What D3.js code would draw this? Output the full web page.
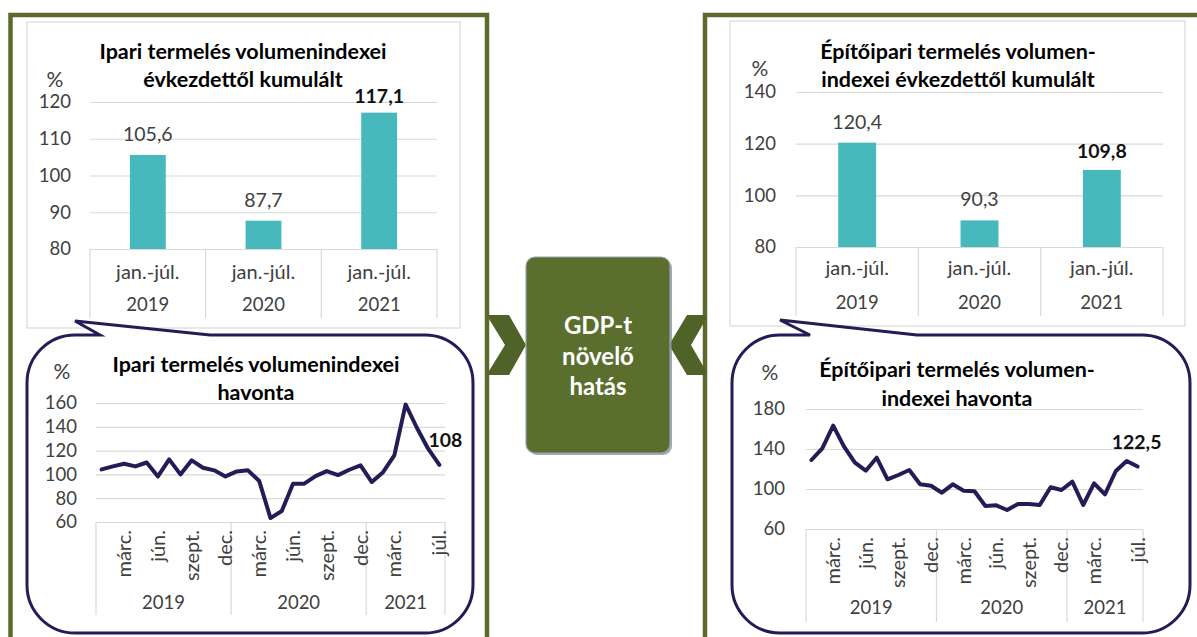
<!DOCTYPE html>
<html><head><meta charset="utf-8">
<script src="https://cdn.jsdelivr.net/npm/d3@7"></script>
<style>
body{margin:0;background:#fff}
svg{display:block}
text{font-family:Lato,"Open Sans",sans-serif}
</style>
</head><body>
<svg id="c" width="1197" height="637"></svg>
<script>
// ---------- data ----------
const barYears = ["2019", "2020", "2021"];
const barPeriod = "jan.-júl.";
const industryCumulative = [105.6, 87.7, 117.1];
const constructionCumulative = [120.4, 90.3, 109.8];
const industryBarTicks = [80, 90, 100, 110, 120];
const constructionBarTicks = [80, 100, 120, 140];

const monthYears = ["2019", "2020", "2021"];
const monthsPerYear = [12, 12, 7];
const monthLabels = ["", "", "márc.", "", "", "jún.", "", "", "szept.", "", "", "dec.",
                     "", "", "márc.", "", "", "jún.", "", "", "szept.", "", "", "dec.",
                     "", "", "márc.", "", "", "", "júl."];
const industryMonthly = [104.2, 106.7, 109, 106.7, 110, 98.3, 112.6, 100, 111.8, 105.6, 103.4, 98.3,
                         102.5, 103.4, 94.4, 63.3, 69.2, 92.2, 92.2, 98.6, 102.8, 99.4, 103.9, 107.6,
                         93.6, 101.9, 116, 158.8, 139.2, 121.6, 108];
const constructionMonthly = [129, 140.7, 163.3, 142.3, 126.3, 118.3, 131.3, 109.7, 114, 119, 104.7, 103.3,
                             96.3, 104.7, 98.3, 97.7, 83, 83.7, 79, 85, 85, 84, 101.7, 99,
                             107.3, 84, 105.7, 94.7, 118, 128, 122.5];
const industryLineTicks = [60, 80, 100, 120, 140, 160];
const constructionLineTicks = [60, 100, 140, 180];
const industryLastLabel = "108";
const constructionLastLabel = "122,5";
const centerText = ["GDP-t", "növelő", "hatás"];

// ---------- styles ----------
const GREEN = "#5a6b2c", CHEV = "#4f6228", BOX = "#5a6e2e";
const TEAL = "#47b8bb", NAVY = "#231c57", GRID = "#d9d9d9", TXT = "#404040";
const fmt = v => String(v).replace(".", ",");

const svg = d3.select("#c");

// frames
svg.append("path").attr("d", "M10.5,640 V15 H487 V640").attr("fill", "none").attr("stroke", GREEN).attr("stroke-width", 4.5);
svg.append("path").attr("d", "M705,640 V15 H1200").attr("fill", "none").attr("stroke", GREEN).attr("stroke-width", 4.5);

// chevrons
svg.append("polygon").attr("points", "489,315 509,315 526,345 509,375 489,375 489,371 505,345 489,319").attr("fill", CHEV);
svg.append("polygon").attr("points", "706,315 687,315 669,345 687,375 706,375 706,371 691,345 706,319").attr("fill", CHEV);

// center box
svg.append("rect").attr("x", 528).attr("y", 259).attr("width", 144).attr("height", 196).attr("rx", 9).attr("fill", "#7d8490").attr("opacity", 0.7);
svg.append("rect").attr("x", 526).attr("y", 257).attr("width", 144).attr("height", 196).attr("rx", 9)
  .attr("fill", BOX).attr("stroke", "#9aa3b3").attr("stroke-width", 1.2);
centerText.forEach((t, i) => {
  svg.append("text").attr("x", 598).attr("y", 334 + i * 30.5).attr("text-anchor", "middle")
    .attr("font-size", 24).attr("font-weight", "bold").attr("fill", "#fff").text(t);
});

// ---------- bar chart ----------
function barChart(c) {
  const g = svg.append("g");
  g.append("rect").attr("x", c.panel[0]).attr("y", c.panel[1]).attr("width", c.panel[2]).attr("height", c.panel[3])
    .attr("fill", "#fff").attr("stroke", GRID).attr("stroke-width", 1.2);
  const x = d3.scaleBand().domain(barYears).range([c.x0, c.x1]);
  const y = d3.scaleLinear().domain(c.domain).range([c.yBot, c.yTop]);
  const ax = g.append("g").attr("transform", `translate(${c.x0},0)`)
    .call(d3.axisLeft(y).tickValues(c.ticks).tickSize(-(c.x1 - c.x0)).tickPadding(c.x0 - c.tickX).tickFormat(d3.format("d")));
  ax.select(".domain").remove();
  ax.selectAll("line").attr("stroke", GRID).attr("stroke-width", 1.2);
  ax.selectAll("text").attr("font-size", 18.5).attr("fill", TXT).attr("font-family", "Lato");
  // category separators
  const bounds = barYears.map(d => x(d)).concat([c.x1]);
  bounds.forEach(b => g.append("line").attr("x1", b).attr("x2", b).attr("y1", c.yBot).attr("y2", c.sepBot).attr("stroke", GRID).attr("stroke-width", 1.2));
  const bw = x.bandwidth() * c.barFrac;
  g.selectAll(".bar").data(c.values).join("rect")
    .attr("x", (d, i) => x(barYears[i]) + (x.bandwidth() - bw) / 2)
    .attr("y", d => y(d)).attr("width", bw).attr("height", d => y(c.domain[0]) - y(d)).attr("fill", TEAL);
  c.values.forEach((v, i) => {
    const last = i === c.values.length - 1;
    g.append("text").attr("x", x(barYears[i]) + x.bandwidth() / 2).attr("y", y(v) - (last ? c.boldGap : 14))
      .attr("text-anchor", "middle").attr("font-size", 19.5)
      .attr("font-weight", last ? "bold" : "normal").attr("fill", last ? "#111" : TXT).text(fmt(v));
    g.append("text").attr("x", x(barYears[i]) + x.bandwidth() / 2).attr("y", c.catY1).attr("text-anchor", "middle")
      .attr("font-size", 20).attr("fill", TXT).text(barPeriod);
    g.append("text").attr("x", x(barYears[i]) + x.bandwidth() / 2).attr("y", c.catY2).attr("text-anchor", "middle")
      .attr("font-size", 18.5).attr("fill", TXT).text(barYears[i]);
  });
  c.title.forEach((t, i) => g.append("text").attr("x", c.titleX).attr("y", c.titleY[i]).attr("text-anchor", "middle")
    .attr("font-size", c.titleSize).attr("font-weight", "bold").attr("fill", "#000").text(t));
  g.append("text").attr("x", c.pct[0]).attr("y", c.pct[1]).attr("text-anchor", "middle").attr("font-size", 21).attr("fill", TXT).text("%");
}

// ---------- callout ----------
function callout(x, y, w, h, r, a, b, tx, ty) {
  return `M${x + r},${y} L${a},${y} L${tx},${ty} L${b},${y} L${x + w - r},${y} A${r},${r} 0 0 1 ${x + w},${y + r} ` +
    `L${x + w},${y + h - r} A${r},${r} 0 0 1 ${x + w - r},${y + h} L${x + r},${y + h} A${r},${r} 0 0 1 ${x},${y + h - r} ` +
    `L${x},${y + r} A${r},${r} 0 0 1 ${x + r},${y} Z`;
}

// ---------- line chart ----------
function lineChart(c) {
  const g = svg.append("g");
  g.append("path").attr("d", callout(...c.bubble)).attr("fill", "#fff").attr("stroke", NAVY).attr("stroke-width", 3).attr("stroke-linejoin", "miter");
  const n = c.values.length;
  const x = d3.scaleBand().domain(d3.range(n)).range([c.x0, c.x1]);
  const y = d3.scaleLinear().domain(c.domain).range([c.yBot, c.yTop]);
  const ax = g.append("g").attr("transform", `translate(${c.x0},0)`)
    .call(d3.axisLeft(y).tickValues(c.ticks).tickSize(-(c.x1 - c.x0)).tickPadding(c.x0 - c.tickX).tickFormat(d3.format("d")));
  ax.select(".domain").remove();
  ax.selectAll("line").attr("stroke", GRID).attr("stroke-width", 1.2);
  ax.selectAll("text").attr("font-size", 18.5).attr("fill", TXT).attr("font-family", "Lato");
  // year separators and labels
  let start = 0;
  const cuts = [0];
  monthsPerYear.forEach(m => { start += m; cuts.push(start); });
  const bx = i => (i >= n ? c.x1 : x(i));
  cuts.forEach(ci => g.append("line").attr("x1", bx(ci)).attr("x2", bx(ci)).attr("y1", c.yBot).attr("y2", c.sepBot)
    .attr("stroke", GRID).attr("stroke-width", 1.2));
  monthYears.forEach((yr, k) => g.append("text").attr("x", (bx(cuts[k]) + bx(cuts[k + 1])) / 2).attr("y", c.yearY)
    .attr("text-anchor", "middle").attr("font-size", 18.5).attr("fill", TXT).text(yr));
  monthLabels.forEach((m, i) => {
    if (!m) return;
    const cx = x(i) + x.bandwidth() / 2;
    g.append("text").attr("transform", `translate(${cx},${c.monthTop}) rotate(-90)`).attr("dy", "0.35em")
      .attr("text-anchor", "end").attr("font-size", 20).attr("fill", TXT).text(m);
  });
  const line = d3.line().x((d, i) => x(i) + x.bandwidth() / 2).y(d => y(d));
  g.append("path").attr("d", line(c.values)).attr("fill", "none").attr("stroke", NAVY).attr("stroke-width", 4)
    .attr("stroke-linejoin", "round").attr("stroke-linecap", "round");
  g.append("text").attr("x", x(n - 1) + x.bandwidth() / 2 + c.lastDx).attr("y", y(c.values[n - 1]) + c.lastDy)
    .attr("text-anchor", "middle").attr("font-size", 19.5).attr("font-weight", "bold").attr("fill", "#111").text(c.lastLabel);
  c.title.forEach((t, i) => g.append("text").attr("x", c.titleX).attr("y", c.titleY[i]).attr("text-anchor", "middle")
    .attr("font-size", c.titleSize).attr("font-weight", "bold").attr("fill", "#000").text(t));
  g.append("text").attr("x", c.pct[0]).attr("y", c.pct[1]).attr("text-anchor", "middle").attr("font-size", 21).attr("fill", TXT).text("%");
}

barChart({
  panel: [27, 22, 433, 306], x0: 90, x1: 437, yTop: 102, yBot: 249, domain: [80, 120], ticks: industryBarTicks,
  tickX: 71, values: industryCumulative, barFrac: 0.31, boldGap: 10, catY1: 279, catY2: 311, sepBot: 318,
  title: ["Ipari termelés volumenindexei", "évkezdettől kumulált"], titleX: 243, titleY: [59, 87], titleSize: 21.5, pct: [55, 87]
});
barChart({
  panel: [730, 21, 455, 305], x0: 796, x1: 1163, yTop: 92, yBot: 247, domain: [80, 140], ticks: constructionBarTicks,
  tickX: 776, values: constructionCumulative, barFrac: 0.31, boldGap: 12, catY1: 275, catY2: 309, sepBot: 316,
  title: ["Építőipari termelés volumen-", "indexei évkezdettől kumulált"], titleX: 958, titleY: [59, 87], titleSize: 21.5, pct: [760, 76]
});

lineChart({
  bubble: [27, 335, 446, 298, 48, 100, 210, 75, 321],
  x0: 96, x1: 445, yTop: 403, yBot: 522, domain: [60, 160], ticks: industryLineTicks, tickX: 77,
  values: industryMonthly, sepBot: 615, yearY: 609, monthTop: 530, lastLabel: industryLastLabel, lastDx: 6, lastDy: -18,
  title: ["Ipari termelés volumenindexei", "havonta"], titleX: 256, titleY: [372, 400], titleSize: 21.5, pct: [62, 379]
});
lineChart({
  bubble: [732, 335, 458, 298, 48, 810, 917, 780, 320],
  x0: 806, x1: 1143, yTop: 409, yBot: 529, domain: [60, 180], ticks: constructionLineTicks, tickX: 785,
  values: constructionMonthly, sepBot: 622, yearY: 614, monthTop: 537, lastLabel: constructionLastLabel, lastDx: -1, lastDy: -18,
  title: ["Építőipari termelés volumen-", "indexei havonta"], titleX: 957, titleY: [377, 406], titleSize: 21.5, pct: [770, 380]
});
</script>
</body></html>
